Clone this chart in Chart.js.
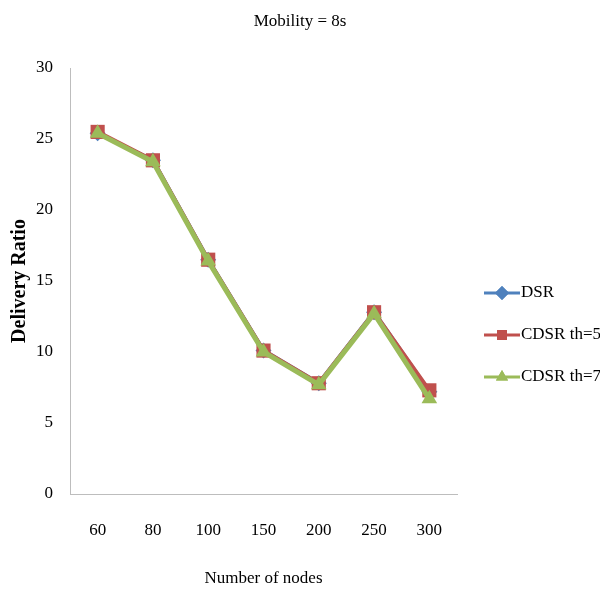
<!DOCTYPE html>
<html>
<head>
<meta charset="utf-8">
<script src="https://cdn.jsdelivr.net/npm/chart.js@4.4.0/dist/chart.umd.min.js"></script>
<style>
  body { margin: 0; background: #fff; }
  #wrap { width: 600px; height: 590px; }
</style>
</head>
<body>
<div id="wrap"><canvas id="myChart" width="600" height="590"></canvas></div>
<script>
const nodes = ['60', '80', '100', '150', '200', '250', '300']
const dsr = [25.4, 23.5, 16.5, 10.1, 7.8, 12.8, 7.2]
const cdsrTh5 = [25.5, 23.5, 16.5, 10.1, 7.8, 12.8, 7.3]
const cdsrTh7 = [25.4, 23.4, 16.4, 10.0, 7.7, 12.7, 6.7]

const serif = '"Liberation Serif", "DejaVu Serif", serif'
const ctx = document.getElementById('myChart')

function series(label, data, color, style, radius, width, order) {
    return {
        label: label,
        data: data,
        borderColor: color,
        backgroundColor: color,
        pointBackgroundColor: color,
        pointBorderColor: color,
        pointBorderWidth: 0,
        pointStyle: style,
        pointRadius: radius,
        borderWidth: width,
        tension: 0,
        order: order
    }
}

// title + right-hand legend drawn by hand so they sit where the original had them
const extras = {
    id: 'extras',
    afterDraw(chart) {
        const c = chart.ctx
        const area = chart.chartArea
        c.save()
        c.fillStyle = '#000'
        c.font = '17px ' + serif
        c.textAlign = 'center'
        c.textBaseline = 'middle'
        c.fillText('Mobility = 8s', 300, 22)

        const x0 = area.right + 27
        const midY = 335
        const gap = 42
        chart.data.datasets.forEach((ds, i) => {
            const y = midY + (i - 1) * gap
            c.strokeStyle = ds.borderColor
            c.lineWidth = 3
            c.beginPath()
            c.moveTo(x0, y)
            c.lineTo(x0 + 36, y)
            c.stroke()
            c.fillStyle = ds.borderColor
            Chart.helpers.drawPoint(c, { pointStyle: ds.pointStyle, radius: 7, borderWidth: 0 }, x0 + 18, y)
            c.fill()
            c.fillStyle = '#000'
            c.textAlign = 'left'
            c.font = '17px ' + serif
            c.fillText(ds.label, x0 + 37, y)
        })
        c.restore()
    }
}

const chart = new Chart(ctx, {
    type: 'line',
    data: {
        labels: nodes,
        datasets: [
            series('DSR', dsr, '#4F81BD', 'rectRot', 8, 4, 3),
            series('CDSR th=5', cdsrTh5, '#C0504D', 'rect', 10, 4, 2),
            series('CDSR th=7', cdsrTh7, '#9BBB59', 'triangle', 9, 5, 1)
        ]
    },
    options: {
        responsive: false,
        animation: false,
        layout: {
            padding: { top: 68, right: 143, bottom: 1, left: 8 }
        },
        scales: {
            x: {
                offset: true,
                afterFit(scale) { scale.height = 95 },
                grid: { display: false, drawTicks: false },
                border: { display: true, color: '#bdbdbd', width: 1 },
                ticks: { color: '#000', padding: 26, font: { family: serif, size: 17 } },
                title: {
                    display: true,
                    text: 'Number of nodes',
                    color: '#000',
                    font: { family: serif, size: 17 },
                    padding: { top: 0, bottom: 0 }
                }
            },
            y: {
                min: 0,
                max: 30,
                afterFit(scale) { scale.width = 62 },
                grid: { display: false, drawTicks: false },
                border: { display: true, color: '#bdbdbd', width: 1 },
                ticks: { stepSize: 5, color: '#000', padding: 17, font: { family: serif, size: 17 } },
                title: {
                    display: true,
                    text: 'Delivery Ratio',
                    color: '#000',
                    font: { family: serif, size: 20, weight: 'bold' },
                    padding: { top: 0, bottom: 0 }
                }
            }
        },
        plugins: {
            legend: { display: false },
            title: { display: false },
            tooltip: { enabled: false }
        }
    },
    plugins: [extras]
})
</script>
</body>
</html>
